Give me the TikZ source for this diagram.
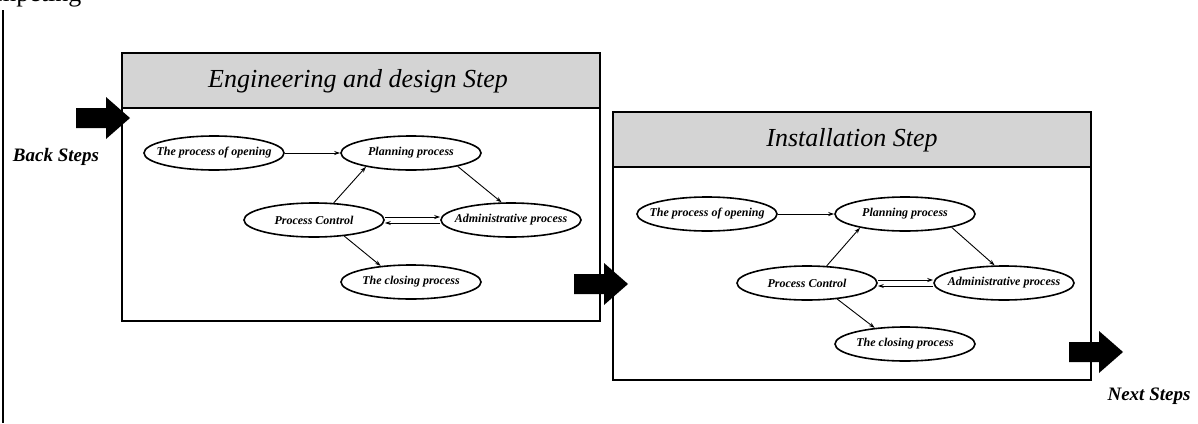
\documentclass[tikz,border=0pt]{standalone}
\usepackage{fontspec}
\setmainfont{Liberation Serif}
\usetikzlibrary{arrows.meta,shapes.geometric}
\def\bigarrow(#1,#2){\fill[shift={(#1,#2)}] (-54,-10) -- (-24,-10) -- (-24,-21) -- (0,0) -- (-24,21) -- (-24,10) -- (-54,10) -- cycle;}

\tikzset{
	proc/.style={ellipse, draw, line width=1.6pt, minimum width=140pt, minimum height=34pt, inner xsep=-11pt, inner ysep=0pt, font=\fontsize{12}{14}\selectfont\bfseries\itshape},
	flow/.style={-{Stealth[length=6pt,width=4pt]}, line width=0.9pt},
	frame/.style={draw, line width=1.2pt},
	steptitle/.style={font=\fontsize{26}{30}\selectfont\itshape},
	side/.style={font=\fontsize{19}{22}\selectfont\bfseries\itshape},
}

\begin{document}
\begin{tikzpicture}[x=1pt, y=-1pt]
		\useasboundingbox (0,0) rectangle (1198,423);
		\clip (0,0) rectangle (1198,423);
		
		% cut text and page rule
		\node[anchor=base west, inner sep=0pt, font=\fontsize{26}{30}\selectfont] (cut) at (-4,1.5) {mpeting};
		\draw[line width=1.6pt] (3,10) -- (3,423);
		
		%%%%% ENGINEERING STEP %%%%%
		\draw[frame, fill=black!17] (122,53) rectangle (600,108);
		\draw[frame] (122,108) rectangle (600,321);
		\node[steptitle] (t1) at (358,81) {Engineering and design Step};
		
		\node[proc] (op1) at (214,153) {The process of opening};
		\node[proc] (pl1) at (411,153) {Planning process};
		\node[proc] (pc1) at (314,220) {Process Control};
		\node[proc] (ad1) at (511,220) {Administrative process};
		\node[proc] (cl1) at (411,282) {The closing process};
		
		\draw[flow] (op1) -- (pl1);
		\draw[flow] (pc1.41) -- (pl1.197);
		\draw[flow] (pl1.344) -- (ad1.118);
		\draw[flow] ([yshift=3pt]pc1.east) -- ([yshift=3pt]ad1.west);
		\draw[flow] ([yshift=-3pt]ad1.west) -- ([yshift=-3pt]pc1.east);
		\draw[flow] (pc1.332) -- (cl1.152);
		
		%%%%% INSTALLATION STEP %%%%%
		\draw[frame, fill=black!17] (613,112) rectangle (1091,167);
		\draw[frame] (613,167) rectangle (1091,380);
		\node[steptitle] (t2) at (852,140) {Installation Step};
		
		\node[proc] (op2) at (707,214) {The process of opening};
		\node[proc] (pl2) at (905,214) {Planning process};
		\node[proc] (pc2) at (807,283) {Process Control};
		\node[proc] (ad2) at (1004,283) {Administrative process};
		\node[proc] (cl2) at (905,344) {The closing process};
		
		\draw[flow] (op2) -- (pl2);
		\draw[flow] (pc2.41) -- (pl2.197);
		\draw[flow] (pl2.344) -- (ad2.118);
		\draw[flow] ([yshift=3pt]pc2.east) -- ([yshift=3pt]ad2.west);
		\draw[flow] ([yshift=-3pt]ad2.west) -- ([yshift=-3pt]pc2.east);
		\draw[flow] (pc2.332) -- (cl2.152);
		
		%%%%% BIG ARROWS %%%%%
		\bigarrow(130,118)
		\bigarrow(628,284)
		\bigarrow(1123,352)
		
		\node[side] (back) at (56,157) {Back Steps};
		\node[side] (next) at (1149,396) {Next Steps};
	\end{tikzpicture}
\end{document}
